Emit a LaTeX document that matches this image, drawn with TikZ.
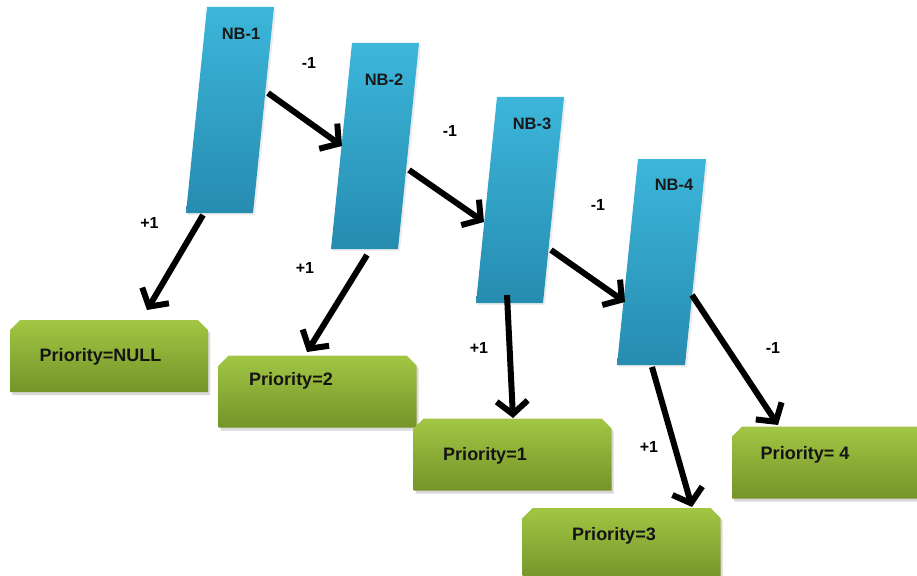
\documentclass[tikz,border=0pt]{standalone}
\usepackage{fontspec}
\setmainfont{Liberation Sans}
\usetikzlibrary{arrows.meta,shadows}
\definecolor{bluetop}{RGB}{60,182,218}
\definecolor{bluebot}{RGB}{38,140,176}
\definecolor{greentop}{RGB}{162,198,68}
\definecolor{greenbot}{RGB}{116,148,40}
\begin{document}
\begin{tikzpicture}[x=1pt,y=-1pt,
  nbbox/.style={top color=bluetop,bottom color=bluebot,draw=none,
    drop shadow={opacity=0.15,shadow xshift=2pt,shadow yshift=-2pt}},
  prbox/.pic={\shade[top color=greentop, bottom color=greenbot, draw=none,
      drop shadow={opacity=0.3,shadow xshift=2pt,shadow yshift=-3pt}]
      (-99,-26) -- (-89,-36) -- (89,-36) -- (99,-26) -- (99,36) -- (-99,36) -- cycle;},
  nbtxt/.style={font=\fontsize{16.5}{18}\selectfont\bfseries, text=black!90, inner sep=0pt},
  ptxt/.style={font=\fontsize{18}{20}\selectfont\bfseries, text=black!92, inner sep=0pt},
  wt/.style={font=\fontsize{16}{18}\selectfont\bfseries, inner sep=0pt},
  link/.style={line width=6pt, -{Straight Barb[length=13pt,width=31pt]}}
]
\useasboundingbox (0,0) rectangle (917,575);
\clip (0,0) rectangle (917,575);

% blue parallelograms
\shade[nbbox] (207,7) -- (274,7) -- (253,213) -- (186,213) -- cycle;
\shade[nbbox] (352,43) -- (419,43) -- (398,249) -- (331,249) -- cycle;
\shade[nbbox] (497,97) -- (564,97) -- (543,303) -- (476,303) -- cycle;
\shade[nbbox] (638,159) -- (706,159) -- (685,365) -- (617,365) -- cycle;

\node[nbtxt] (nb1) at (241,34) {NB-1};
\node[nbtxt] (nb2) at (384,80) {NB-2};
\node[nbtxt] (nb3) at (532,124) {NB-3};
\node[nbtxt] (nb4) at (674,185) {NB-4};

% green boxes
\pic (g1) at (109,356) {prbox};
\pic (g2) at (317.5,391.5) {prbox};
\pic (g3) at (512.5,454.5) {prbox};
\pic (g4) at (621.5,544) {prbox};
\pic (g5) at (831,462.5) {prbox};

\node[ptxt] (p1) at (100.5,357) {Priority=NULL};
\node[ptxt] (p2) at (291,381) {Priority=2};
\node[ptxt] (p3) at (485,456) {Priority=1};
\node[ptxt] (p4) at (614,536) {Priority=3};
\node[ptxt] (p5) at (805,455) {Priority= 4};

% connector end points
\coordinate (a1s) at (268,93);  \coordinate (a1e) at (342,146);
\coordinate (a2s) at (409,170); \coordinate (a2e) at (484,222);
\coordinate (a3s) at (551,250); \coordinate (a3e) at (625,302);
\coordinate (a4s) at (203,215); \coordinate (a4e) at (147,310);
\coordinate (a5s) at (367,255); \coordinate (a5e) at (307,352);
\coordinate (a6s) at (507,295); \coordinate (a6e) at (513,418);
\coordinate (a7s) at (652,367); \coordinate (a7e) at (692,507);
\coordinate (a8s) at (692,295); \coordinate (a8e) at (778,425);

\draw[link] (a1s) -- (a1e);
\draw[link] (a2s) -- (a2e);
\draw[link] (a3s) -- (a3e);
\draw[link] (a4s) -- (a4e);
\draw[link] (a5s) -- (a5e);
\draw[link] (a6s) -- (a6e);
\draw[link] (a7s) -- (a7e);
\draw[link] (a8s) -- (a8e);

% weights
\node[wt] (w1) at (309,63) {-1};
\node[wt] (w2) at (450,131) {-1};
\node[wt] (w3) at (598,205) {-1};
\node[wt] (w4) at (149.5,223) {+1};
\node[wt] (w5) at (305,268) {+1};
\node[wt] (w6) at (479,347.5) {+1};
\node[wt] (w7) at (649,447) {+1};
\node[wt] (w8) at (773,348) {-1};
\end{tikzpicture}
\end{document}
